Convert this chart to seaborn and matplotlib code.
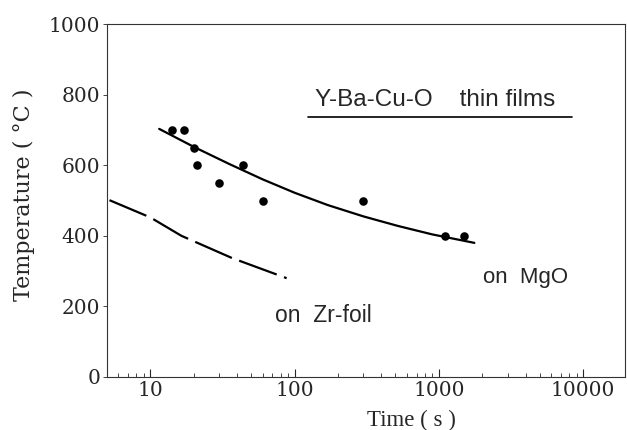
import numpy as np
import pandas as pd
import matplotlib
matplotlib.use("Agg")
import matplotlib.pyplot as plt
import seaborn as sns

# Datos medidos (Y-Ba-Cu-O sobre MgO)
tiempo_pts = [14, 17, 20, 21, 30, 44, 60, 300, 1100, 1500]
temp_pts = [700, 700, 650, 600, 550, 600, 500, 500, 400, 400]

# Curva ajustada sobre MgO
tiempo_mgo = [11.5, 20, 35, 60, 100, 170, 300, 520, 900, 1762]
temp_mgo = [703, 652, 604, 560, 522, 487, 455, 428, 404, 380]

# Curva sobre Zr-foil (discontinua)
tiempo_zr = [5.2, 10, 16.4, 36.8, 88]
temp_zr = [501, 452, 400, 337, 280]

x_ticks = [10, 100, 1000, 10000]
x_labels = ["10", "100", "1000", "10000"]
y_ticks = [0, 200, 400, 600, 800, 1000]

sns.set_style("ticks")
plt.rcParams['font.family'] = ['DejaVu Serif']

fig = plt.figure(figsize=(6.27, 4.30), dpi=100)
ax = fig.add_axes([0.1707, 0.1233, 0.826, 0.8207])

df_pts = pd.DataFrame({'t': tiempo_pts, 'T': temp_pts})
df_mgo = pd.DataFrame({'t': tiempo_mgo, 'T': temp_mgo})
df_zr = pd.DataFrame({'t': tiempo_zr, 'T': temp_zr})

sns.lineplot(data=df_mgo, x='t', y='T', ax=ax, color='black', linewidth=1.6,
             sort=False, estimator=None)
sns.lineplot(data=df_zr, x='t', y='T', ax=ax, color='black', linewidth=1.6,
             sort=False, estimator=None, dashes=False)
ax.lines[-1].set_dashes((18, 3.5))
sns.scatterplot(data=df_pts, x='t', y='T', ax=ax, color='black', s=38,
                edgecolor='black', linewidth=0, zorder=3)

ax.set_xscale('log')
ax.set_xlim(5, 19500)
ax.set_ylim(0, 1000)
ax.set_xticks(x_ticks)
ax.set_xticklabels(x_labels)
ax.set_yticks(y_ticks)
ax.tick_params(axis='x', which='major', direction='in', length=6, width=0.8,
               labelsize=14.5, pad=3)
ax.tick_params(axis='x', which='minor', direction='in', length=3, width=0.6)
ax.tick_params(axis='y', which='major', direction='out', length=3, width=0.6,
               labelsize=14.5, pad=2)

for s in ax.spines.values():
    s.set_linewidth(0.8)
    s.set_color('#333333')

ax.set_xlabel('Time ( s )', fontsize=16.5, family=['Liberation Serif'])
ax.xaxis.set_label_coords(0.587, -0.093)
ax.set_ylabel('Temperature ( °C )', fontsize=16)
ax.yaxis.set_label_coords(-0.14, 0.516)

sans = ['Liberation Sans', 'DejaVu Sans']
ax.text(0.402, 0.785, 'Y-Ba-Cu-O    thin films', transform=ax.transAxes,
        fontsize=17.5, family=sans, va='center', ha='left')
ax.plot([0.388, 0.898], [0.738, 0.738], transform=ax.transAxes,
        color='black', linewidth=1.2)
ax.text(0.726, 0.283, 'on  MgO', transform=ax.transAxes,
        fontsize=16, family=sans, va='center', ha='left')
ax.text(0.324, 0.173, 'on  Zr-foil', transform=ax.transAxes,
        fontsize=16.5, family=sans, va='center', ha='left')

fig.savefig('out.png', dpi=100)
